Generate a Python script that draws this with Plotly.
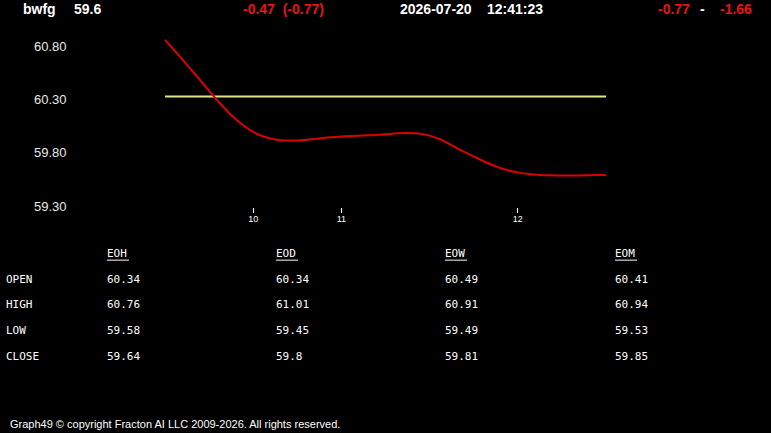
import plotly.graph_objects as go

W, H = 771, 433
HY = 427.4  # effective vertical extent used for placement

# ---- data ----
symbol = "bwfg"
last_price = "59.6"
change_text = "-0.47  (-0.77)"
date_text = "2026-07-20"
time_text = "12:41:23"
range_lo = "-0.77"
range_hi = "-1.66"

bar_index = list(range(41))
price = [60.863, 60.746, 60.628, 60.507, 60.382, 60.264, 60.156, 60.066, 59.996,
         59.951, 59.926, 59.916, 59.916, 59.924, 59.935, 59.946, 59.954, 59.959,
         59.963, 59.967, 59.974, 59.983, 59.987, 59.981, 59.962, 59.925, 59.872,
         59.816, 59.766, 59.716, 59.672, 59.638, 59.616, 59.600, 59.592, 59.588,
         59.586, 59.586, 59.588, 59.591, 59.591]
open_level = [60.33] * 41

x_tick_index = [8, 16, 32]
x_tick_labels = ["10", "11", "12"]
y_tick_vals = [59.30, 59.80, 60.30, 60.80]
y_tick_labels = ["59.30", "59.80", "60.30", "60.80"]

periods = ["EOH", "EOD", "EOW", "EOM"]
row_names = ["OPEN", "HIGH", "LOW", "CLOSE"]
table_values = {
    "EOH": ["60.34", "60.76", "59.58", "59.64"],
    "EOD": ["60.34", "61.01", "59.45", "59.8"],
    "EOW": ["60.49", "60.91", "59.49", "59.81"],
    "EOM": ["60.41", "60.94", "59.53", "59.85"],
}
footer = "Graph49 \u00a9 copyright Fracton AI LLC 2009-2026. All rights reserved."

# ---- layout helpers ----
def px(x):
    return x / W

def py(y):
    return 1 - y / HY

RED = "#e61414"
LINE_RED = "#dd0000"
YELLOW = "#dfe584"
WHITE = "#ffffff"
SANS = "Liberation Sans, Arial, sans-serif"
MONO = "DejaVu Sans Mono, monospace"

fig = go.Figure()
fig.add_trace(go.Scatter(x=bar_index, y=open_level, mode="lines",
                         line=dict(color=YELLOW, width=2), hoverinfo="skip"))
fig.add_trace(go.Scatter(x=bar_index, y=price, mode="lines",
                         line=dict(color=LINE_RED, width=2, shape="spline", smoothing=1.0),
                         hoverinfo="skip"))

ann = []
def txt(x, y, s, color=WHITE, size=14, font=SANS, bold=False, xanchor="left"):
    ann.append(dict(x=px(x), y=py(y), xref="paper", yref="paper",
                    text=("<b>%s</b>" % s) if bold else s,
                    showarrow=False, xanchor=xanchor, yanchor="middle",
                    borderpad=0, borderwidth=0,
                    font=dict(color=color, size=size, family=font)))

# header
txt(23, 9.5, symbol, bold=True)
txt(74, 9.5, last_price, bold=True)
txt(243, 9.5, change_text, color=RED, bold=True)
txt(399.5, 9.5, date_text, bold=True)
txt(486.5, 9.5, time_text, bold=True)
txt(657.5, 9.5, range_lo, color=RED, bold=True)
txt(700, 9.5, "-", bold=True)
txt(719.5, 9.5, range_hi, color=RED, bold=True)

# table
col_x = [107, 276, 445, 615]
row_y = [280, 305.5, 331.5, 357.5]
shapes = []
for cx, p in zip(col_x, periods):
    txt(cx, 254, p, size=11, font=MONO)
    shapes.append(dict(type="line", xref="paper", yref="paper",
                       x0=px(cx), x1=px(cx + 22), y0=py(261), y1=py(261),
                       line=dict(color=WHITE, width=1)))
    for ry, v in zip(row_y, table_values[p]):
        txt(cx, ry, v, size=11, font=MONO)
for ry, name in zip(row_y, row_names):
    txt(6, ry, name, size=11, font=MONO)

txt(9.5, 425.5, footer, size=11)

fig.update_layout(
    width=W, height=H,
    margin=dict(l=0, r=0, t=0, b=0),
    paper_bgcolor="black", plot_bgcolor="black",
    showlegend=False,
    annotations=ann, shapes=shapes,
    xaxis=dict(domain=[px(165), px(606)], range=[0, 40],
               showgrid=False, zeroline=False, showline=False,
               tickmode="array", tickvals=x_tick_index, ticktext=x_tick_labels,
               ticks="outside", ticklen=5, tickwidth=1, tickcolor=WHITE,
               ticklabelstandoff=-2,
               tickfont=dict(color=WHITE, size=9, family=SANS)),
    yaxis=dict(domain=[py(207.5), py(36)], range=[59.292, 60.90],
               anchor="free", position=px(66.5),
               showgrid=False, zeroline=False, showline=False, ticks="",
               tickmode="array", tickvals=y_tick_vals, ticktext=y_tick_labels,
               tickfont=dict(color="#e8e8e8", size=13, family=SANS)),
)

fig.write_html("out.html")
